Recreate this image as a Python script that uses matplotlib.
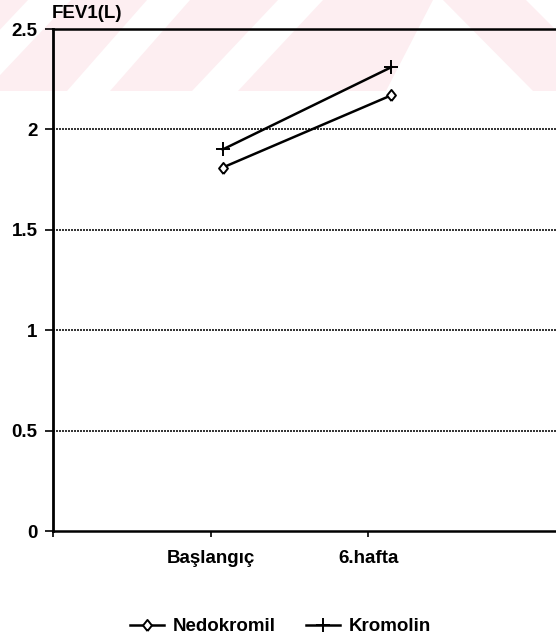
import matplotlib
matplotlib.use("Agg")
import matplotlib.pyplot as plt
from matplotlib.patches import Polygon

plt.rcParams["font.family"] = ["Liberation Sans", "DejaVu Sans"]
plt.rcParams["font.weight"] = "bold"

# Data
periods = ["Başlangıç", "6.hafta"]
nedokromil = [1.81, 2.17]
kromolin = [1.90, 2.31]
y_ticks = [0, 0.5, 1, 1.5, 2, 2.5]
y_tick_labels = ["0", "0.5", "1", "1.5", "2", "2.5"]

FS = 13.5
W, H = 556, 641
fig = plt.figure(figsize=(W / 100, H / 100), dpi=100)

# Faint pink page watermark behind the chart (pixel coordinates)
bg = fig.add_axes([0, 0, 1, 1], zorder=-5)
bg.set_xlim(0, W)
bg.set_ylim(H, 0)
bg.axis("off")
pink = "#fdeef1"
band = 91
bg.add_patch(Polygon([(0, 0), (W, 0), (W, band), (0, band)], closed=True,
                     facecolor=pink, edgecolor="none"))
white_shapes = [
    [(-58, band), (-15, band), (71, 0), (28, 0)],
    [(67, band), (110, band), (190, 0), (147, 0)],
    [(192, band), (238, band), (323, 0), (278, 0)],
    [(433, 0), (443, 0), (533, band), (386, band)],
    [(526, 0), (W, 0), (W, 30)],
]
for verts in white_shapes:
    bg.add_patch(Polygon(verts, closed=True, facecolor="white", edgecolor="none"))

# Main axes
left_px, right_px, top_px, bottom_px = 53, 556, 29, 531
ax = fig.add_axes([left_px / W, 1 - bottom_px / H,
                   (right_px - left_px) / W, (bottom_px - top_px) / H])
ax.set_facecolor("none")

cat_pos = [1, 2]            # tick positions of the two periods
point_pos = [1.076, 2.146]  # where the markers sit along the axis

ax.set_xlim(0, 3.19)
ax.set_ylim(0, 2.5)

diamond = [(0, -1), (0.8, 0), (0, 1), (-0.8, 0), (0, -1)]
ax.plot(point_pos, nedokromil, color="black", lw=1.8, marker=diamond,
        markersize=8, markerfacecolor="white", markeredgecolor="black",
        markeredgewidth=1.4, label="Nedokromil", zorder=4)
ax.plot(point_pos, kromolin, color="black", lw=1.8, marker="+",
        markersize=9.5, markeredgewidth=1.4, label="Kromolin", zorder=4)

# Grid lines
for yv in y_ticks[1:-1]:
    ax.axhline(yv, color="#111111", lw=1.2, linestyle=(0, (1.2, 0.6)), zorder=1)

ax.set_yticks(y_ticks)
ax.set_yticklabels(y_tick_labels, fontsize=FS, fontweight="bold")
ax.set_xticks([0] + cat_pos)
ax.set_xticklabels([""] + periods, fontsize=FS, fontweight="bold")

ax.tick_params(axis="y", direction="out", length=6, width=1.2, pad=5)
ax.tick_params(axis="x", direction="out", length=4, width=1.2, pad=10)

ax.spines["right"].set_visible(False)
ax.spines["left"].set_linewidth(2.0)
ax.spines["bottom"].set_linewidth(1.8)
ax.spines["top"].set_linewidth(1.8)

fig.text(52 / W, 1 - 14 / H, "FEV1(L)", fontsize=FS, fontweight="bold",
         ha="left", va="center")

fig.legend(loc="center", bbox_to_anchor=(0.5045, 0.022), ncol=2,
           frameon=False, fontsize=FS, handlelength=1.81, handletextpad=0.43,
           columnspacing=1.65, borderpad=0)

fig.savefig("out.png", dpi=100)
